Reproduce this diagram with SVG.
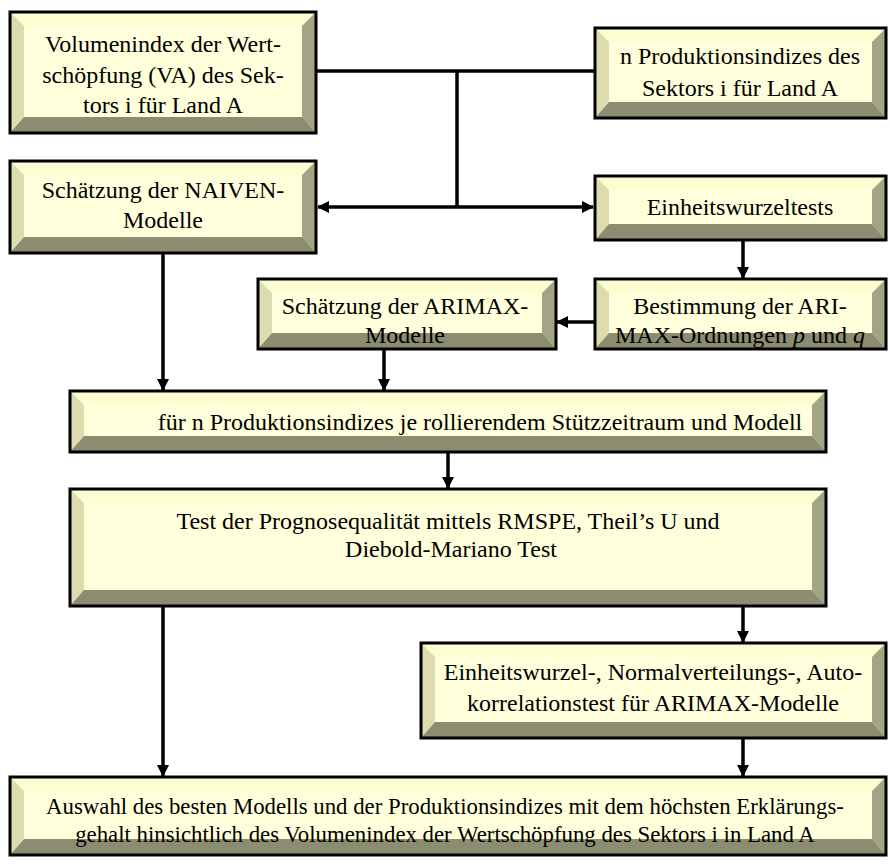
<svg xmlns="http://www.w3.org/2000/svg" width="890" height="864" viewBox="0 0 890 864">
<defs>
<style>
.face{fill:#ffffdc}
.bt{fill:#fdfdd2}
.bl{fill:#dcdcae}
.br{fill:#a3a385}
.bb{fill:#8c8c70}
.frame{fill:none;stroke:#000;stroke-width:3}
.t{font-family:'Liberation Serif',serif;font-size:24px;fill:#000;text-anchor:middle}
.c{stroke:#000;stroke-width:3.5;fill:none}
</style>
<marker id="ah" viewBox="0 0 12 12" refX="11" refY="6" markerWidth="12" markerHeight="12" markerUnits="userSpaceOnUse" orient="auto-start-reverse">
<path d="M0,0 L12,6 L0,12 Z" fill="#000"/>
</marker>
</defs>
<rect width="890" height="864" fill="#fff"/>

<g id="connectors">
<path class="c" d="M316,71 H595"/>
<path class="c" d="M457,71 V207"/>
<path class="c" d="M318,207 H593" marker-start="url(#ah)" marker-end="url(#ah)"/>
<path class="c" d="M743,240 V278" marker-end="url(#ah)"/>
<path class="c" d="M595,322 H557" marker-end="url(#ah)"/>
<path class="c" d="M163,253 V390" marker-end="url(#ah)"/>
<path class="c" d="M384,349 V390" marker-end="url(#ah)"/>
<path class="c" d="M448,452 V488" marker-end="url(#ah)"/>
<path class="c" d="M743,606 V642" marker-end="url(#ah)"/>
<path class="c" d="M163,606 V776" marker-end="url(#ah)"/>
<path class="c" d="M743,738 V776" marker-end="url(#ah)"/>
</g>

<g id="n1">
<rect class="face" x="10" y="12" width="306" height="121"/>
<polygon class="bt" points="10,12 316,12 302,26 24,26"/>
<polygon class="bl" points="10,12 24,26 24,117 10,133"/>
<polygon class="br" points="316,12 316,133 302,117 302,26"/>
<polygon class="bb" points="10,133 24,117 302,117 316,133"/>
<rect class="frame" x="10" y="12" width="306" height="121"/>
<text class="t" font-family="Liberation Serif" x="163" y="52">Volumenindex der Wert-</text>
<text class="t" font-family="Liberation Serif" x="163" y="83">schöpfung (VA) des Sek-</text>
<text class="t" font-family="Liberation Serif" x="163" y="113">tors i für Land A</text>
</g>

<g id="n2">
<rect class="face" x="595" y="28" width="291" height="90"/>
<polygon class="bt" points="595,28 886,28 872,42 609,42"/>
<polygon class="bl" points="595,28 609,42 609,102 595,118"/>
<polygon class="br" points="886,28 886,118 872,102 872,42"/>
<polygon class="bb" points="595,118 609,102 872,102 886,118"/>
<rect class="frame" x="595" y="28" width="291" height="90"/>
<text class="t" font-family="Liberation Serif" x="740" y="64">n Produktionsindizes des</text>
<text class="t" font-family="Liberation Serif" x="740" y="96">Sektors i für Land A</text>
</g>

<g id="n3">
<rect class="face" x="10" y="161" width="306" height="92"/>
<polygon class="bt" points="10,161 316,161 302,175 24,175"/>
<polygon class="bl" points="10,161 24,175 24,237 10,253"/>
<polygon class="br" points="316,161 316,253 302,237 302,175"/>
<polygon class="bb" points="10,253 24,237 302,237 316,253"/>
<rect class="frame" x="10" y="161" width="306" height="92"/>
<text class="t" font-family="Liberation Serif" x="163" y="198">Schätzung der NAIVEN-</text>
<text class="t" font-family="Liberation Serif" x="163" y="228">Modelle</text>
</g>

<g id="n4">
<rect class="face" x="595" y="176" width="291" height="64"/>
<polygon class="bt" points="595,176 886,176 872,190 609,190"/>
<polygon class="bl" points="595,176 609,190 609,224 595,240"/>
<polygon class="br" points="886,176 886,240 872,224 872,190"/>
<polygon class="bb" points="595,240 609,224 872,224 886,240"/>
<rect class="frame" x="595" y="176" width="291" height="64"/>
<text class="t" font-family="Liberation Serif" x="740" y="215">Einheitswurzeltests</text>
</g>

<g id="n5">
<rect class="face" x="595" y="279" width="291" height="70"/>
<polygon class="bt" points="595,279 886,279 872,293 609,293"/>
<polygon class="bl" points="595,279 609,293 609,333 595,349"/>
<polygon class="br" points="886,279 886,349 872,333 872,293"/>
<polygon class="bb" points="595,349 609,333 872,333 886,349"/>
<rect class="frame" x="595" y="279" width="291" height="70"/>
<text class="t" font-family="Liberation Serif" x="740" y="314">Bestimmung der ARI-</text>
<text class="t" font-family="Liberation Serif" x="740" y="343">MAX-Ordnungen <tspan font-style="italic">p</tspan> und <tspan font-style="italic">q</tspan></text>
</g>

<g id="n6">
<rect class="face" x="258" y="279" width="298" height="70"/>
<polygon class="bt" points="258,279 556,279 542,293 272,293"/>
<polygon class="bl" points="258,279 272,293 272,333 258,349"/>
<polygon class="br" points="556,279 556,349 542,333 542,293"/>
<polygon class="bb" points="258,349 272,333 542,333 556,349"/>
<rect class="frame" x="258" y="279" width="298" height="70"/>
<text class="t" font-family="Liberation Serif" x="405" y="314">Schätzung der ARIMAX-</text>
<text class="t" font-family="Liberation Serif" x="405" y="343">Modelle</text>
</g>

<g id="n7">
<rect class="face" x="70" y="391" width="756" height="61"/>
<polygon class="bt" points="70,391 826,391 812,405 84,405"/>
<polygon class="bl" points="70,391 84,405 84,436 70,452"/>
<polygon class="br" points="826,391 826,452 812,436 812,405"/>
<polygon class="bb" points="70,452 84,436 812,436 826,452"/>
<rect class="frame" x="70" y="391" width="756" height="61"/>
<text class="t" font-family="Liberation Serif" x="480" y="430">für n Produktionsindizes je rollierendem Stützzeitraum und Modell</text>
</g>

<g id="n8">
<rect class="face" x="70" y="489" width="756" height="117"/>
<polygon class="bt" points="70,489 826,489 812,503 84,503"/>
<polygon class="bl" points="70,489 84,503 84,590 70,606"/>
<polygon class="br" points="826,489 826,606 812,590 812,503"/>
<polygon class="bb" points="70,606 84,590 812,590 826,606"/>
<rect class="frame" x="70" y="489" width="756" height="117"/>
<text class="t" font-family="Liberation Serif" x="448" y="529">Test der Prognosequalität mittels RMSPE, Theil’s U und</text>
<text class="t" font-family="Liberation Serif" x="451" y="557">Diebold-Mariano Test</text>
</g>

<g id="n9">
<rect class="face" x="421" y="643" width="465" height="95"/>
<polygon class="bt" points="421,643 886,643 872,657 435,657"/>
<polygon class="bl" points="421,643 435,657 435,722 421,738"/>
<polygon class="br" points="886,643 886,738 872,722 872,657"/>
<polygon class="bb" points="421,738 435,722 872,722 886,738"/>
<rect class="frame" x="421" y="643" width="465" height="95"/>
<text class="t" font-family="Liberation Serif" x="653" y="680">Einheitswurzel-, Normalverteilungs-, Auto-</text>
<text class="t" font-family="Liberation Serif" x="653" y="711">korrelationstest für ARIMAX-Modelle</text>
</g>

<g id="n10">
<rect class="face" x="10" y="777" width="876" height="78"/>
<polygon class="bt" points="10,777 886,777 872,791 24,791"/>
<polygon class="bl" points="10,777 24,791 24,839 10,855"/>
<polygon class="br" points="886,777 886,855 872,839 872,791"/>
<polygon class="bb" points="10,855 24,839 872,839 886,855"/>
<rect class="frame" x="10" y="777" width="876" height="78"/>
<text class="t" font-family="Liberation Serif" x="445" y="814" style="font-size:22.8px">Auswahl des besten Modells und der Produktionsindizes mit dem höchsten Erklärungs-</text>
<text class="t" font-family="Liberation Serif" x="445" y="842" style="font-size:22.8px">gehalt hinsichtlich des Volumenindex der Wertschöpfung des Sektors i in Land A</text>
</g>
</svg>
